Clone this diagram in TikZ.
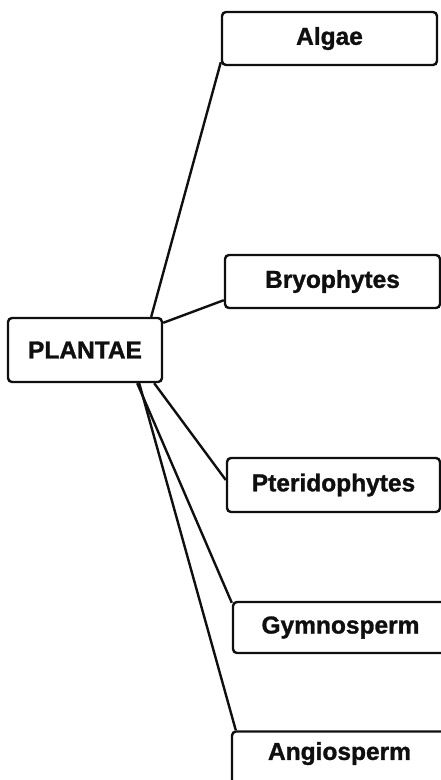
\documentclass[tikz,border=0pt]{standalone}
\usepackage{fontspec}
\setmainfont{Liberation Sans}
\newfontfamily\taxfont{Liberation Sans Bold}[FakeBold=1.2]
\usepackage{tikz}
\usetikzlibrary{positioning}
\definecolor{ink}{RGB}{15,15,15}
\tikzset{
  taxbox/.style={rectangle, draw=ink, fill=white, text=ink,
    minimum width=215pt, minimum height=53pt, inner sep=0pt,
    font=\taxfont\fontsize{24.5}{28}\selectfont, rounded corners=4pt, line width=2.4pt},
  rootbox/.style={taxbox, minimum width=154pt, minimum height=64pt},
  branch/.style={line width=2.4pt, color=ink}
}

\begin{document}
\begin{tikzpicture}[x=1pt, y=-1pt]
  \useasboundingbox (0,0) rectangle (441,780);
  \clip (0,0) rectangle (441,780);

  \node[rootbox] (plantae) at (85,350) {PLANTAE};
  \node[taxbox] (algae) at (329.5,38.5) {Algae};
  \node[taxbox] (bryo) at (332.5,281.5) {Bryophytes};
  \node[taxbox, minimum width=213pt, minimum height=54pt] (pterido) at (333.5,485) {Pteridophytes};
  \node[taxbox, minimum height=51pt] (gymno) at (340.5,627.5) {Gymnosperm};
  \node[taxbox, text depth=14pt] (angio) at (339.5,758) {Angiosperm};

  \draw[branch] ([xshift=-12pt]plantae.north east) -- ([yshift=4pt]algae.south west);
  \draw[branch] ([yshift=-6pt]plantae.north east) -- ([yshift=9pt]bryo.south west);
  \draw[branch] ([xshift=-9pt]plantae.south east) -- ([yshift=5pt]pterido.west);
  \draw[branch] ([xshift=-26pt]plantae.south east) -- ([yshift=-2pt]gymno.north west);
  \draw[branch] ([xshift=-24pt]plantae.south east) -- ([xshift=5pt]angio.north west);

\end{tikzpicture}
\end{document}
